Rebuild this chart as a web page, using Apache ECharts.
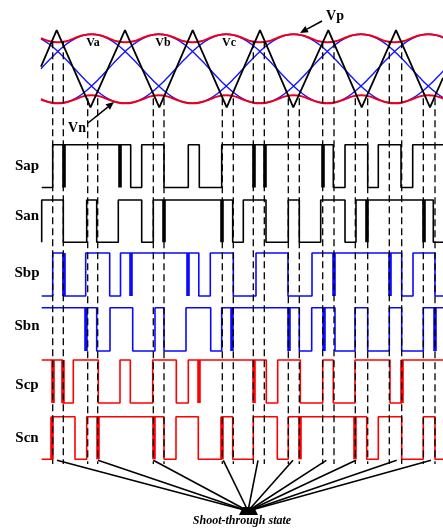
<!DOCTYPE html>
<html><head><meta charset="utf-8">
<script src="https://cdn.jsdelivr.net/npm/echarts@6/dist/echarts.min.js"></script>
<style>html,body{margin:0;padding:0;background:#fff}#c{width:443px;height:529px}</style>
</head><body><div id="c"></div>
<script>
// ---------- DATA (time axis in arbitrary units, 0..402) ----------
const sampleStep = 8.42;            // time between reference-wave samples (15 deg)
const Va = [0,.26,.5,.71,.87,.97,1,.97,.87,.71,.5,.26,0,-.26,-.5,-.71,-.87,-.97,-1,-.97,-.87,-.71,-.5,-.26,
            0,.26,.5,.71,.87,.97,1,.97,.87,.71,.5,.26,0,-.26,-.5,-.71,-.87,-.97,-1,-.97,-.87,-.71,-.5,-.26,0];
const Vb = [-.87,-.97,-1,-.97,-.87,-.71,-.5,-.26,0,.26,.5,.71,.87,.97,1,.97,.87,.71,.5,.26,0,-.26,-.5,-.71,
            -.87,-.97,-1,-.97,-.87,-.71,-.5,-.26,0,.26,.5,.71,.87,.97,1,.97,.87,.71,.5,.26,0,-.26,-.5,-.71,-.87];
const Vc = [.87,.71,.5,.26,0,-.26,-.5,-.71,-.87,-.97,-1,-.97,-.87,-.71,-.5,-.26,0,.26,.5,.71,.87,.97,1,.97,
            .87,.71,.5,.26,0,-.26,-.5,-.71,-.87,-.97,-1,-.97,-.87,-.71,-.5,-.26,0,.26,.5,.71,.87,.97,1,.97,.87];
const Vp = [.89,.80,.77,.80,.89,.97,1,.97, .89,.80,.77,.80,.89,.97,1,.97, .89,.80,.77,.80,.89,.97,1,.97,
            .89,.80,.77,.80,.89,.97,1,.97, .89,.80,.77,.80,.89,.97,1,.97, .89,.80,.77,.80,.89,.97,1,.97, .89];
const Vn = [-.89,-.97,-1,-.97,-.89,-.80,-.77,-.80, -.89,-.97,-1,-.97,-.89,-.80,-.77,-.80, -.89,-.97,-1,-.97,-.89,-.80,-.77,-.80,
            -.89,-.97,-1,-.97,-.89,-.80,-.77,-.80, -.89,-.97,-1,-.97,-.89,-.80,-.77,-.80, -.89,-.97,-1,-.97,-.89,-.80,-.77,-.80, -.89];
const carrierT = [0, 15.7, 49.5, 84, 118.3, 151.7, 185.7, 219, 252.3, 287.3, 320.7, 355, 389, 402];
const carrierV = [0.06, 1.12, -1.12, 1.12, -1.12, 1.12, -1.12, 1.12, -1.12, 1.12, -1.12, 1.12, -1.12, -0.26];

const rowNames = ['Sap', 'San', 'Sbp', 'Sbn', 'Scp', 'Scn'];
const sapInit = 0, sapEdges = [11.7, 89.7, 100.7, 123, 147.3, 158.3, 180.7, 292.3, 304, 326.7, 337.3, 360, 371.7];
const sapThick = [22.3, 79, 212.3, 223.3, 281.7];
const sanInit = 0, sanEdges = [0.7, 22.3, 45.7, 55.7, 77.3, 100.7, 112.3, 191.7, 202.3, 225, 247.3, 258.3, 279.7, 304, 315, 392.3];
const sanThick = [123, 180.7, 325.7, 382.3];
const sbpInit = 0, sbpEdges = [11.7, 22.3, 44.7, 68.7, 79.5, 157.8, 169.3, 192.3, 215, 247, 271, 360.7, 372, 394];
const sbpThick = [22.3, 89.7, 146.8, 292.3, 349];
const sbnInit = 1, sbnEdges = [55.7, 69, 91.7, 114, 123, 145, 169.7, 180.7, 258.3, 270.7, 294, 314, 326.7, 348.3, 360.7, 382.3];
const sbnThick = [45, 190.7, 247.3, 282.3, 394];
const scpInit = 1, scpEdges = [21.7, 32.3, 57.3, 79, 89.3, 111.7, 135.3, 147.3, 225.3, 236.7, 259.3, 281.7, 292.3, 314, 349, 360.7];
const scpThick = [11.7, 21.7, 157.5, 212.3, 360.7];
const scnInit = 0, scnEdges = [10.7, 34, 45.7, 123, 135, 157.3, 180.7, 191.7, 212.3, 236.3, 247.3, 325.7, 337.3, 360.7, 382.3, 394];
const scnThick = [10.7, 56.3, 112.3, 180.7, 258.3, 314];

// shoot-through intervals (dashed guide lines) and which envelope they cut ('p' = Vp, 'n' = Vn)
const stStart = [11.7, 46.7, 112.3, 181.3, 212.3, 247.3, 281.7, 314.3, 348.3, 382.3];
const stEnd   = [22.3, 56.7, 123, 192.3, 223.3, 258.3, 293, 326.7, 360.7, 394];
const stSide  = ['p', 'n', 'n', 'n', 'p', 'n', 'p', 'n', 'p', 'n'];
const stMarkT = [16, 57, 112.3, 182.3, 217, 252, 285.3, 315, 355.7, 390];

// ---------- CHART ----------
(function () {
const rows = [
  {init: sapInit, edges: sapEdges, thick: sapThick, color: '#000000', top: 144.7, h: 42.8},
  {init: sanInit, edges: sanEdges, thick: sanThick, color: '#000000', top: 200, h: 42.3},
  {init: sbpInit, edges: sbpEdges, thick: sbpThick, color: '#0a0aff', top: 253, h: 43},
  {init: sbnInit, edges: sbnEdges, thick: sbnThick, color: '#0a0aff', top: 307.7, h: 43.3},
  {init: scpInit, edges: scpEdges, thick: scpThick, color: '#ff0000', top: 360, h: 43},
  {init: scnInit, edges: scnEdges, thick: scnThick, color: '#ff0000', top: 416.7, h: 42.6}
];
const T_MAX = 402;

function stepData(init, edges) {
  const pts = [[0.7, init]];
  let lvl = init;
  edges.forEach(e => { pts.push([e, lvl]); lvl = 1 - lvl; pts.push([e, lvl]); });
  pts.push([T_MAX, lvl]);
  return pts;
}
const sampled = arr => arr.map((v, k) => [k * sampleStep, v]);

const grids = [{left: 41, right: 0, top: 27.4, height: 82.8}];
const xAxes = [{type: 'value', min: 0, max: T_MAX, show: false, gridIndex: 0}];
const yAxes = [{type: 'value', min: -1.2, max: 1.2, show: false, gridIndex: 0}];
rows.forEach((r, i) => {
  grids.push({left: 41, right: 0, top: r.top, height: r.h});
  xAxes.push({type: 'value', min: 0, max: T_MAX, show: false, gridIndex: i + 1});
  yAxes.push({type: 'value', min: 0, max: 1, show: false, gridIndex: i + 1});
});

const series = [];
const base = {xAxisIndex: 0, yAxisIndex: 0, type: 'line', symbol: 'none', smooth: 0.5, silent: true, animation: false};
[Va, Vb, Vc].forEach(a => series.push(Object.assign({}, base, {data: sampled(a), lineStyle: {color: '#1414ff', width: 1.4}})));
[Vp, Vn].forEach(a => series.push(Object.assign({}, base, {data: sampled(a), lineStyle: {color: '#e8001e', width: 2}})));
series.push(Object.assign({}, base, {smooth: false, data: carrierT.map((t, i) => [t, carrierV[i]]), lineStyle: {color: '#000', width: 1.8}}));

rows.forEach((r, i) => {
  series.push({type: 'line', xAxisIndex: i + 1, yAxisIndex: i + 1, symbol: 'none', clip: false, animation: false,
    data: stepData(r.init, r.edges), lineStyle: {color: r.color, width: 1.6}});
  series.push({type: 'lines', coordinateSystem: 'cartesian2d', xAxisIndex: i + 1, yAxisIndex: i + 1, animation: false,
    data: r.thick.map(t => ({coords: [[t, 0], [t, 1]]})), lineStyle: {color: r.color, width: 3.6, opacity: 1}});
});

const chart = echarts.init(document.getElementById('c'), null, {renderer: 'canvas'});
chart.setOption({animation: false, grid: grids, xAxis: xAxes, yAxis: yAxes, series: series});

// ---------- annotations ----------
const serif = '"Liberation Serif", "DejaVu Serif", serif';
const g = [];
function txt(text, x, y, size, style) {
  g.push({type: 'text', z: 50, style: {text: text, x: x, y: y, font: (style || 'bold') + ' ' + size + 'px ' + serif,
    fill: '#000', textAlign: 'center', textVerticalAlign: 'middle', align: 'center', verticalAlign: 'middle'}});
}
function arrow(x1, y1, x2, y2) {
  const dx = x2 - x1, dy = y2 - y1, L = Math.hypot(dx, dy), ux = dx / L, uy = dy / L;
  const bx = x2 - 8 * ux, by = y2 - 8 * uy, px = -uy * 3.5, py = ux * 3.5;
  g.push({type: 'line', z: 50, shape: {x1: x1, y1: y1, x2: bx, y2: by}, style: {stroke: '#000', lineWidth: 1.6}});
  g.push({type: 'polygon', z: 50, shape: {points: [[x2, y2], [bx + px, by + py], [bx - px, by - py]]}, style: {fill: '#000'}});
}
const rowLabelY = [166, 216, 273, 326, 385, 438];
rowNames.forEach((n, i) => txt(n, 27, rowLabelY[i], 15));
txt('Va', 93, 43, 12); txt('Vb', 163, 43, 12); txt('Vc', 229, 43, 12);
txt('Vp', 335, 16, 14); arrow(322, 21, 300, 33);
txt('Vn', 77, 128, 14); arrow(88, 123, 114, 102);

// dashed guides
stStart.forEach((t0, i) => {
  [t0, stEnd[i]].forEach(t => {
    const yStart = chart.convertToPixel({gridIndex: 0}, [t, stSide[i] === 'p' ? 0.8 : -0.85])[1];
    const x = chart.convertToPixel({gridIndex: 0}, [t, 0])[0];
    g.push({type: 'line', z: 40, shape: {x1: x, y1: yStart, x2: x, y2: 464},
      style: {stroke: '#000', lineWidth: 1.3, lineDash: [7, 4]}});
  });
});
// converging lines to the shoot-through label
const cx = 248, cy = 511;
stMarkT.forEach(t => {
  const p = chart.convertToPixel({gridIndex: 6}, [t, 0]);
  g.push({type: 'line', z: 45, shape: {x1: p[0], y1: p[1] + 1, x2: cx, y2: cy}, style: {stroke: '#000', lineWidth: 1.6}});
});
g.push({type: 'polygon', z: 45, shape: {points: [[239, 515], [258, 515], [254, 507], [243, 507]]}, style: {fill: '#000'}});
txt('Shoot-through state', 242, 521, 12, 'italic bold');

chart.setOption({graphic: {elements: g}});
})();
</script></body></html>
